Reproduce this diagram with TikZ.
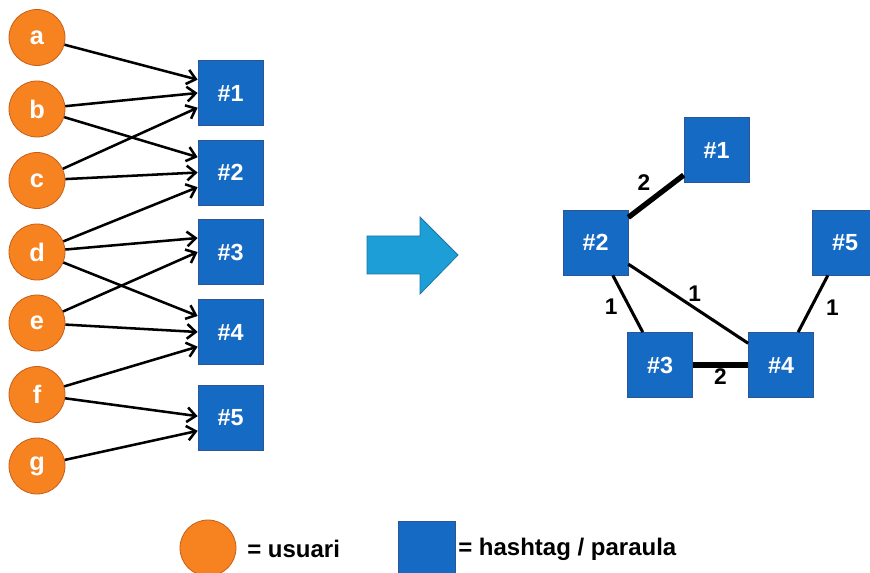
\documentclass[tikz,border=0pt]{standalone}
\usepackage{fontspec}
\setmainfont{Liberation Sans}
\usetikzlibrary{arrows.meta,calc}
\definecolor{userfill}{RGB}{246,130,32}
\definecolor{userdraw}{RGB}{200,95,25}
\definecolor{tagfill}{RGB}{21,107,196}
\definecolor{tagdraw}{RGB}{45,85,150}
\definecolor{bigarrowfill}{RGB}{30,158,214}
\definecolor{bigarrowdraw}{RGB}{25,118,165}
\tikzset{
  user/.style={circle, fill=userfill, draw=userdraw, line width=0.6pt,
    minimum size=42pt, inner sep=0pt, text=white, font=\bfseries\fontsize{19}{19}\selectfont},
  tag/.style={rectangle, fill=tagfill, draw=tagdraw, line width=0.5pt,
    minimum size=48.75pt, inner sep=0pt, text=white, font=\bfseries\fontsize{17.5}{17.5}\selectfont},
  link/.style={line width=1.9pt, -{Straight Barb[length=6.5pt,width=11pt,line width=1.9pt]}},
  thinedge/.style={line width=2.3pt},
  thickedge/.style={line width=4pt},
  weight/.style={font=\bfseries\fontsize{17}{17}\selectfont, inner sep=0pt},
  legendtext/.style={anchor=west, inner sep=0pt, font=\bfseries\fontsize{18}{18}\selectfont}
}
\begin{document}
\begin{tikzpicture}[x=0.75pt, y=-0.75pt]
\useasboundingbox (0,0) rectangle (870,573);

% users
\node[user] (a) at (37,37.5) {a};
\node[user] (b) at (37,109) {b};
\node[user] (c) at (37,180.5) {c};
\node[user] (d) at (37,252) {d};
\node[user] (e) at (37,323) {e};
\node[user] (f) at (37,394.5) {f};
\node[user] (g) at (37,466) {g};

% hashtags
\node[tag] (h1) at (230.5,93) {\#1};
\node[tag] (h2) at (230.5,172.5) {\#2};
\node[tag] (h3) at (230.5,252) {\#3};
\node[tag] (h4) at (230.5,332) {\#4};
\node[tag] (h5) at (230.5,417.5) {\#5};

% user -> hashtag links
\draw[link] (a) -- ([yshift=10pt]h1.west);
\draw[link] (b) -- (h1.west);
\draw[link] (c) -- ([yshift=-11pt]h1.west);
\draw[link] (b) -- ([yshift=11.5pt]h2.west);
\draw[link] (c) -- (h2.west);
\draw[link] (d) -- ([yshift=-11pt]h2.west);
\draw[link] (d) -- ([yshift=10.5pt]h3.west);
\draw[link] (e) -- (h3.west);
\draw[link] (d) -- ([yshift=12pt]h4.west);
\draw[link] (e) -- (h4.west);
\draw[link] (f) -- ([yshift=-11pt]h4.west);
\draw[link] (f) -- ([yshift=1pt]h5.west);
\draw[link] (g) -- ([yshift=-10pt]h5.west);

% transformation arrow
\filldraw[fill=bigarrowfill, draw=bigarrowdraw, line width=0.6pt]
  (367,236) -- (420,236) -- (420,217) -- (458,255) -- (420,294) -- (420,274) -- (367,274) -- cycle;

% co-occurrence graph
\node[tag] (g1) at (716.5,150) {\#1};
\node[tag] (g2) at (595.5,242.5) {\#2};
\node[tag] (g3) at (660,365) {\#3};
\node[tag] (g4) at (781,365) {\#4};
\node[tag] (g5) at (845,242.5) {\#5};

\draw[thickedge] (g2) -- node[weight, xshift=-9pt, yshift=10pt] {2} (g1);
\draw[thinedge] (g2) -- node[weight, pos=0.55, xshift=-13.5pt] {1} (g3);
\draw[thinedge] (g2) -- node[weight, pos=0.553, yshift=11pt] {1} (g4);
\draw[thickedge] (g3) -- node[weight, yshift=-9pt] {2} (g4);
\draw[thinedge] (g5) -- node[weight, pos=0.567, xshift=16pt] {1} (g4);

% legend
\node[user] (lu) at (208,548) {};
\node[legendtext] (lut) at (247,549) {= usuari};
\node[tag, minimum size=42.75pt] (lt) at (426.5,549.5) {};
\node[legendtext] (ltt) at (458,549) {= hashtag / paraula};
\end{tikzpicture}
\end{document}
